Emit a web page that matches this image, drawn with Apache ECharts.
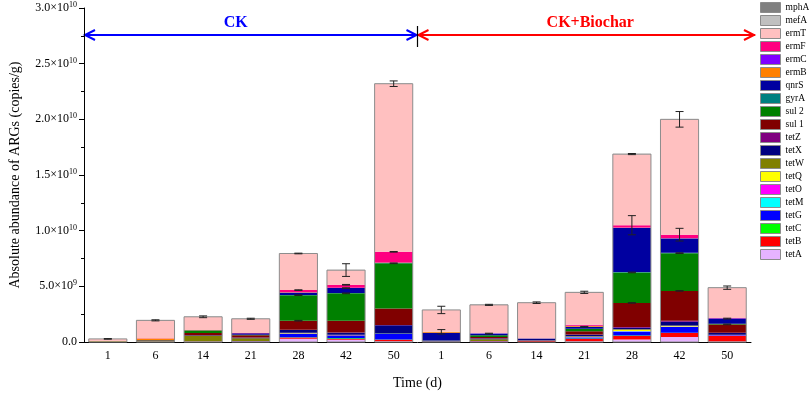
<!DOCTYPE html>
<html>
<head>
<meta charset="utf-8">
<script src="https://cdn.jsdelivr.net/npm/echarts@6/dist/echarts.min.js"></script>
<style>
  html, body { margin: 0; padding: 0; background: #fff; }
  #chart { width: 809px; height: 395px; }
</style>
</head>
<body>
<div id="chart"></div>
<script>
// values in units of 10^9 copies/g, bars: CK 1..50 then CK+Biochar 1..50
const days = ["1", "6", "14", "21", "28", "42", "50", "1", "6", "14", "21", "28", "42", "50"];

const tetA = [0.005, 0.01, 0.01, 0.01, 0.3, 0.2, 0.06, 0.01, 0.01, 0.01, 0.06, 0.22, 0.45, 0.05];
const tetB = [0.005, 0.01, 0.02, 0.02, 0.1, 0.08, 0.14, 0.01, 0.03, 0.1, 0.22, 0.33, 0.36, 0.5];
const tetC = [0.002, 0.005, 0.01, 0.01, 0.02, 0.06, 0.02, 0.01, 0.01, 0.01, 0.03, 0.03, 0.03, 0.02];
const tetG = [0.003, 0.01, 0.01, 0.03, 0.3, 0.24, 0.5, 0.01, 0.02, 0.01, 0.1, 0.35, 0.5, 0.03];
const tetM = [0.002, 0.005, 0.005, 0.005, 0.02, 0.01, 0.01, 0.005, 0.005, 0.005, 0.02, 0.03, 0.03, 0.01];
const tetO = [0.002, 0.005, 0.005, 0.005, 0.02, 0.01, 0.01, 0.005, 0.005, 0.005, 0.02, 0.03, 0.03, 0.01];
const tetQ = [0.002, 0.005, 0.01, 0.01, 0.02, 0.01, 0.01, 0.005, 0.01, 0.005, 0.02, 0.1, 0.03, 0.01];
const tetW = [0.02, 0.04, 0.5, 0.25, 0.05, 0.03, 0.02, 0.01, 0.15, 0.01, 0.04, 0.05, 0.05, 0.02];
const tetX = [0.005, 0.02, 0.03, 0.05, 0.25, 0.2, 0.74, 0.03, 0.08, 0.12, 0.13, 0.15, 0.33, 0.15];
const tetZ = [0.002, 0.005, 0.01, 0.01, 0.03, 0.02, 0.02, 0.005, 0.01, 0.005, 0.03, 0.05, 0.1, 0.03];
const sul1 = [0.02, 0.05, 0.2, 0.2, 0.8, 1.04, 1.49, 0.01, 0.12, 0.01, 0.3, 2.17, 2.68, 0.75];
const sul2 = [0.005, 0.01, 0.22, 0.05, 2.3, 2.47, 4.05, 0.01, 0.15, 0.01, 0.2, 2.74, 3.39, 0.05];
const gyrA = [0.002, 0.005, 0.01, 0.01, 0.02, 0.02, 0.02, 0.005, 0.01, 0.005, 0.02, 0.03, 0.03, 0.02];
const qnrS = [0.003, 0.01, 0.01, 0.12, 0.2, 0.45, 0.03, 0.7, 0.15, 0.01, 0.18, 3.96, 1.28, 0.45];
const ermB = [0.01, 0.13, 0.02, 0.01, 0.03, 0.02, 0.02, 0.09, 0.01, 0.01, 0.07, 0.03, 0.03, 0.02];
const ermC = [0.002, 0.005, 0.005, 0.005, 0.02, 0.01, 0.01, 0.005, 0.005, 0.005, 0.02, 0.02, 0.02, 0.01];
const ermF = [0.005, 0.01, 0.01, 0.01, 0.18, 0.27, 0.95, 0.01, 0.01, 0.01, 0.08, 0.2, 0.3, 0.03];
const ermT = [0.18, 1.6, 1.17, 1.27, 3.27, 1.3, 15.08, 1.94, 2.54, 3.18, 2.9, 6.37, 10.34, 2.7];
const mefA = [0.002, 0.005, 0.005, 0.005, 0.01, 0.01, 0.01, 0.005, 0.005, 0.005, 0.01, 0.01, 0.01, 0.01];
const mphA = [0.002, 0.005, 0.005, 0.005, 0.01, 0.01, 0.01, 0.005, 0.005, 0.005, 0.01, 0.01, 0.01, 0.01];

// error of the total abundance
const totalErr = [0.03, 0.05, 0.08, 0.05, 0.03, 0.57, 0.25, 0.33, 0.05, 0.07, 0.1, 0.05, 0.7, 0.15];
// some error bars drawn at the top of inner segments: [bar, gene, err]
const innerErr = [
  [4, "sul 2", 0.03], [4, "sul 1", 0.03], [4, "ermF", 0.03],
  [5, "sul 2", 0.03], [5, "qnrS", 0.03], [5, "ermF", 0.03],
  [6, "sul 2", 0.03], [6, "ermF", 0.03],
  [7, "ermB", 0.2], [8, "qnrS", 0.03],
  [10, "qnrS", 0.03],
  [11, "ermF", 0.86], [11, "sul 2", 0.03], [11, "sul 1", 0.03],
  [12, "ermF", 0.57], [12, "sul 2", 0.03], [12, "sul 1", 0.03],
  [13, "qnrS", 0.04], [13, "sul 1", 0.03]
];

// stacking order bottom -> top
const genes = [
  ["tetA", tetA, "#E6B3FF"], ["tetB", tetB, "#FF0000"], ["tetC", tetC, "#00FF00"],
  ["tetG", tetG, "#0000FF"], ["tetM", tetM, "#00FFFF"], ["tetO", tetO, "#FF00FF"],
  ["tetQ", tetQ, "#FFFF00"], ["tetW", tetW, "#808000"], ["tetX", tetX, "#000080"],
  ["tetZ", tetZ, "#800080"], ["sul 1", sul1, "#800000"], ["sul 2", sul2, "#008000"],
  ["gyrA", gyrA, "#008080"], ["qnrS", qnrS, "#0000A0"], ["ermB", ermB, "#FF8000"],
  ["ermC", ermC, "#8000FF"], ["ermF", ermF, "#FF0080"], ["ermT", ermT, "#FFC0C0"],
  ["mefA", mefA, "#C0C0C0"], ["mphA", mphA, "#808080"]
];

const FONT = "Liberation Serif";
let chart = echarts.init(document.getElementById("chart"));

let totals = days.map((d, i) => genes.reduce((s, g) => s + g[1][i], 0));
let cumTop = {};
genes.forEach((g, k) => {
  cumTop[g[0]] = days.map((d, i) => genes.slice(0, k + 1).reduce((s, h) => s + h[1][i], 0));
});

let barSeries = genes.map(g => ({
  name: g[0],
  type: "bar",
  stack: "args",
  barWidth: "80%",
  data: g[1],
  itemStyle: { color: g[2] }
}));

function errItem(params, api) {
  let i = api.value(0), v = api.value(1), e = api.value(2);
  let hi = api.coord([i, v + e]);
  let lo = api.coord([i, v - e]);
  let cap = 4;
  let st = { stroke: "#222", lineWidth: 1 };
  return {
    type: "group",
    children: [
      { type: "line", shape: { x1: hi[0], y1: hi[1], x2: lo[0], y2: lo[1] }, style: st },
      { type: "line", shape: { x1: hi[0] - cap, y1: hi[1], x2: hi[0] + cap, y2: hi[1] }, style: st },
      { type: "line", shape: { x1: lo[0] - cap, y1: lo[1], x2: lo[0] + cap, y2: lo[1] }, style: st }
    ]
  };
}

function outlineItem(params, api) {
  let i = api.value(0), v = api.value(1);
  let top = api.coord([i, v]);
  let base = api.coord([i, 0]);
  let w = api.size([1, 0])[0] * 0.8;
  return {
    type: "rect",
    shape: { x: top[0] - w / 2, y: top[1], width: w, height: base[1] - top[1] },
    style: { fill: "none", stroke: "#8c8c8c", lineWidth: 1 }
  };
}

function sciLabel(v) {
  if (v === 0) return "0.0";
  let real = v * 1e9;
  let exp = Math.floor(Math.log10(real) + 1e-9);
  let mant = real / Math.pow(10, exp);
  return "{m|" + mant.toFixed(1) + "×10}{s|" + exp + "}";
}

chart.setOption({
  animation: false,
  textStyle: { fontFamily: FONT, color: "#000" },
  grid: { left: 81, right: 58, top: 8, bottom: 51 },
  legend: {
    data: genes.map(g => g[0]).reverse(),
    orient: "vertical",
    left: 760,
    top: 2,
    padding: 0,
    itemWidth: 20,
    itemHeight: 10,
    itemGap: 2,
    selectedMode: false,
    icon: "rect",
    itemStyle: { borderColor: "#8c8c8c", borderWidth: 1 },
    textStyle: { fontFamily: FONT, fontSize: 9.5, color: "#000" }
  },
  xAxis: [
    {
      type: "category",
      data: days,
      name: "Time (d)",
      nameLocation: "middle",
      nameGap: 34,
      nameTextStyle: { fontFamily: FONT, fontSize: 14, color: "#000" },
      axisLine: { lineStyle: { color: "#000", width: 1 } },
      axisTick: { alignWithLabel: true, length: 5, lineStyle: { color: "#000" } },
      axisLabel: { fontFamily: FONT, fontSize: 12, color: "#000", margin: 8 }
    },
    {
      type: "category",
      data: days,
      position: "bottom",
      axisLine: { show: false },
      axisTick: { length: 3, lineStyle: { color: "#000" } },
      axisLabel: { show: false }
    }
  ],
  yAxis: {
    type: "value",
    min: 0,
    max: 30,
    interval: 5,
    name: "Absolute abundance of ARGs (copies/g)",
    nameLocation: "middle",
    nameGap: 62,
    nameTextStyle: { fontFamily: FONT, fontSize: 14, color: "#000" },
    axisLine: { show: true, lineStyle: { color: "#000", width: 1 } },
    axisTick: { show: true, length: 5, lineStyle: { color: "#000" } },
    minorTick: { show: true, splitNumber: 2, length: 3, lineStyle: { color: "#000" } },
    splitLine: { show: false },
    axisLabel: {
      margin: 7,
      formatter: sciLabel,
      fontFamily: FONT,
      fontSize: 12,
      color: "#000",
      rich: {
        m: { fontFamily: FONT, fontSize: 12, color: "#000", lineHeight: 14 },
        s: { fontFamily: FONT, fontSize: 8, color: "#000", lineHeight: 8, verticalAlign: "top" }
      }
    }
  },
  series: barSeries.concat([
    {
      name: "outline",
      type: "custom",
      renderItem: outlineItem,
      data: totals.map((t, i) => [i, t]),
      z: 3,
      silent: true
    },
    {
      name: "err",
      type: "custom",
      renderItem: errItem,
      data: totals.map((t, i) => [i, t, totalErr[i]]).concat(
        innerErr.map(r => [r[0], cumTop[r[1]][r[0]], r[2]])
      ),
      z: 4,
      silent: true
    }
  ])
});

// group arrows above the bars
let c0 = chart.convertToPixel({ xAxisIndex: 0 }, 0);
let c1 = chart.convertToPixel({ xAxisIndex: 0 }, 1);
let band = c1 - c0;
let xLeft = c0 - band / 2;
let xMid = (chart.convertToPixel({ xAxisIndex: 0 }, 6) + chart.convertToPixel({ xAxisIndex: 0 }, 7)) / 2;
let xRight = chart.convertToPixel({ xAxisIndex: 0 }, 13) + band / 2 + 4;
let ay = 35;

function arrow(x1, x2, color) {
  let st = { stroke: color, lineWidth: 2, fill: "none" };
  return [
    { type: "line", shape: { x1: x1, y1: ay, x2: x2, y2: ay }, style: st },
    { type: "polyline", shape: { points: [[x1 + 11, ay - 5], [x1 + 1, ay], [x1 + 11, ay + 5]] }, style: st },
    { type: "polyline", shape: { points: [[x2 - 11, ay - 5], [x2 - 1, ay], [x2 - 11, ay + 5]] }, style: st }
  ];
}

chart.setOption({
  graphic: arrow(xLeft, xMid, "#0000FF").concat(arrow(xMid, xRight, "#FF0000")).concat([
    { type: "line", shape: { x1: xMid, y1: 26, x2: xMid, y2: 47 }, style: { stroke: "#000", lineWidth: 1.2 } },
    {
      type: "text", x: (xLeft + xMid) / 2 - 15, y: 23,
      style: { text: "CK", fill: "#0000FF", font: "bold 16px " + FONT, textAlign: "center", textVerticalAlign: "middle" }
    },
    {
      type: "text", x: (xMid + xRight) / 2 + 4, y: 23,
      style: { text: "CK+Biochar", fill: "#FF0000", font: "bold 16px " + FONT, textAlign: "center", textVerticalAlign: "middle" }
    }
  ])
});
</script>
</body>
</html>
